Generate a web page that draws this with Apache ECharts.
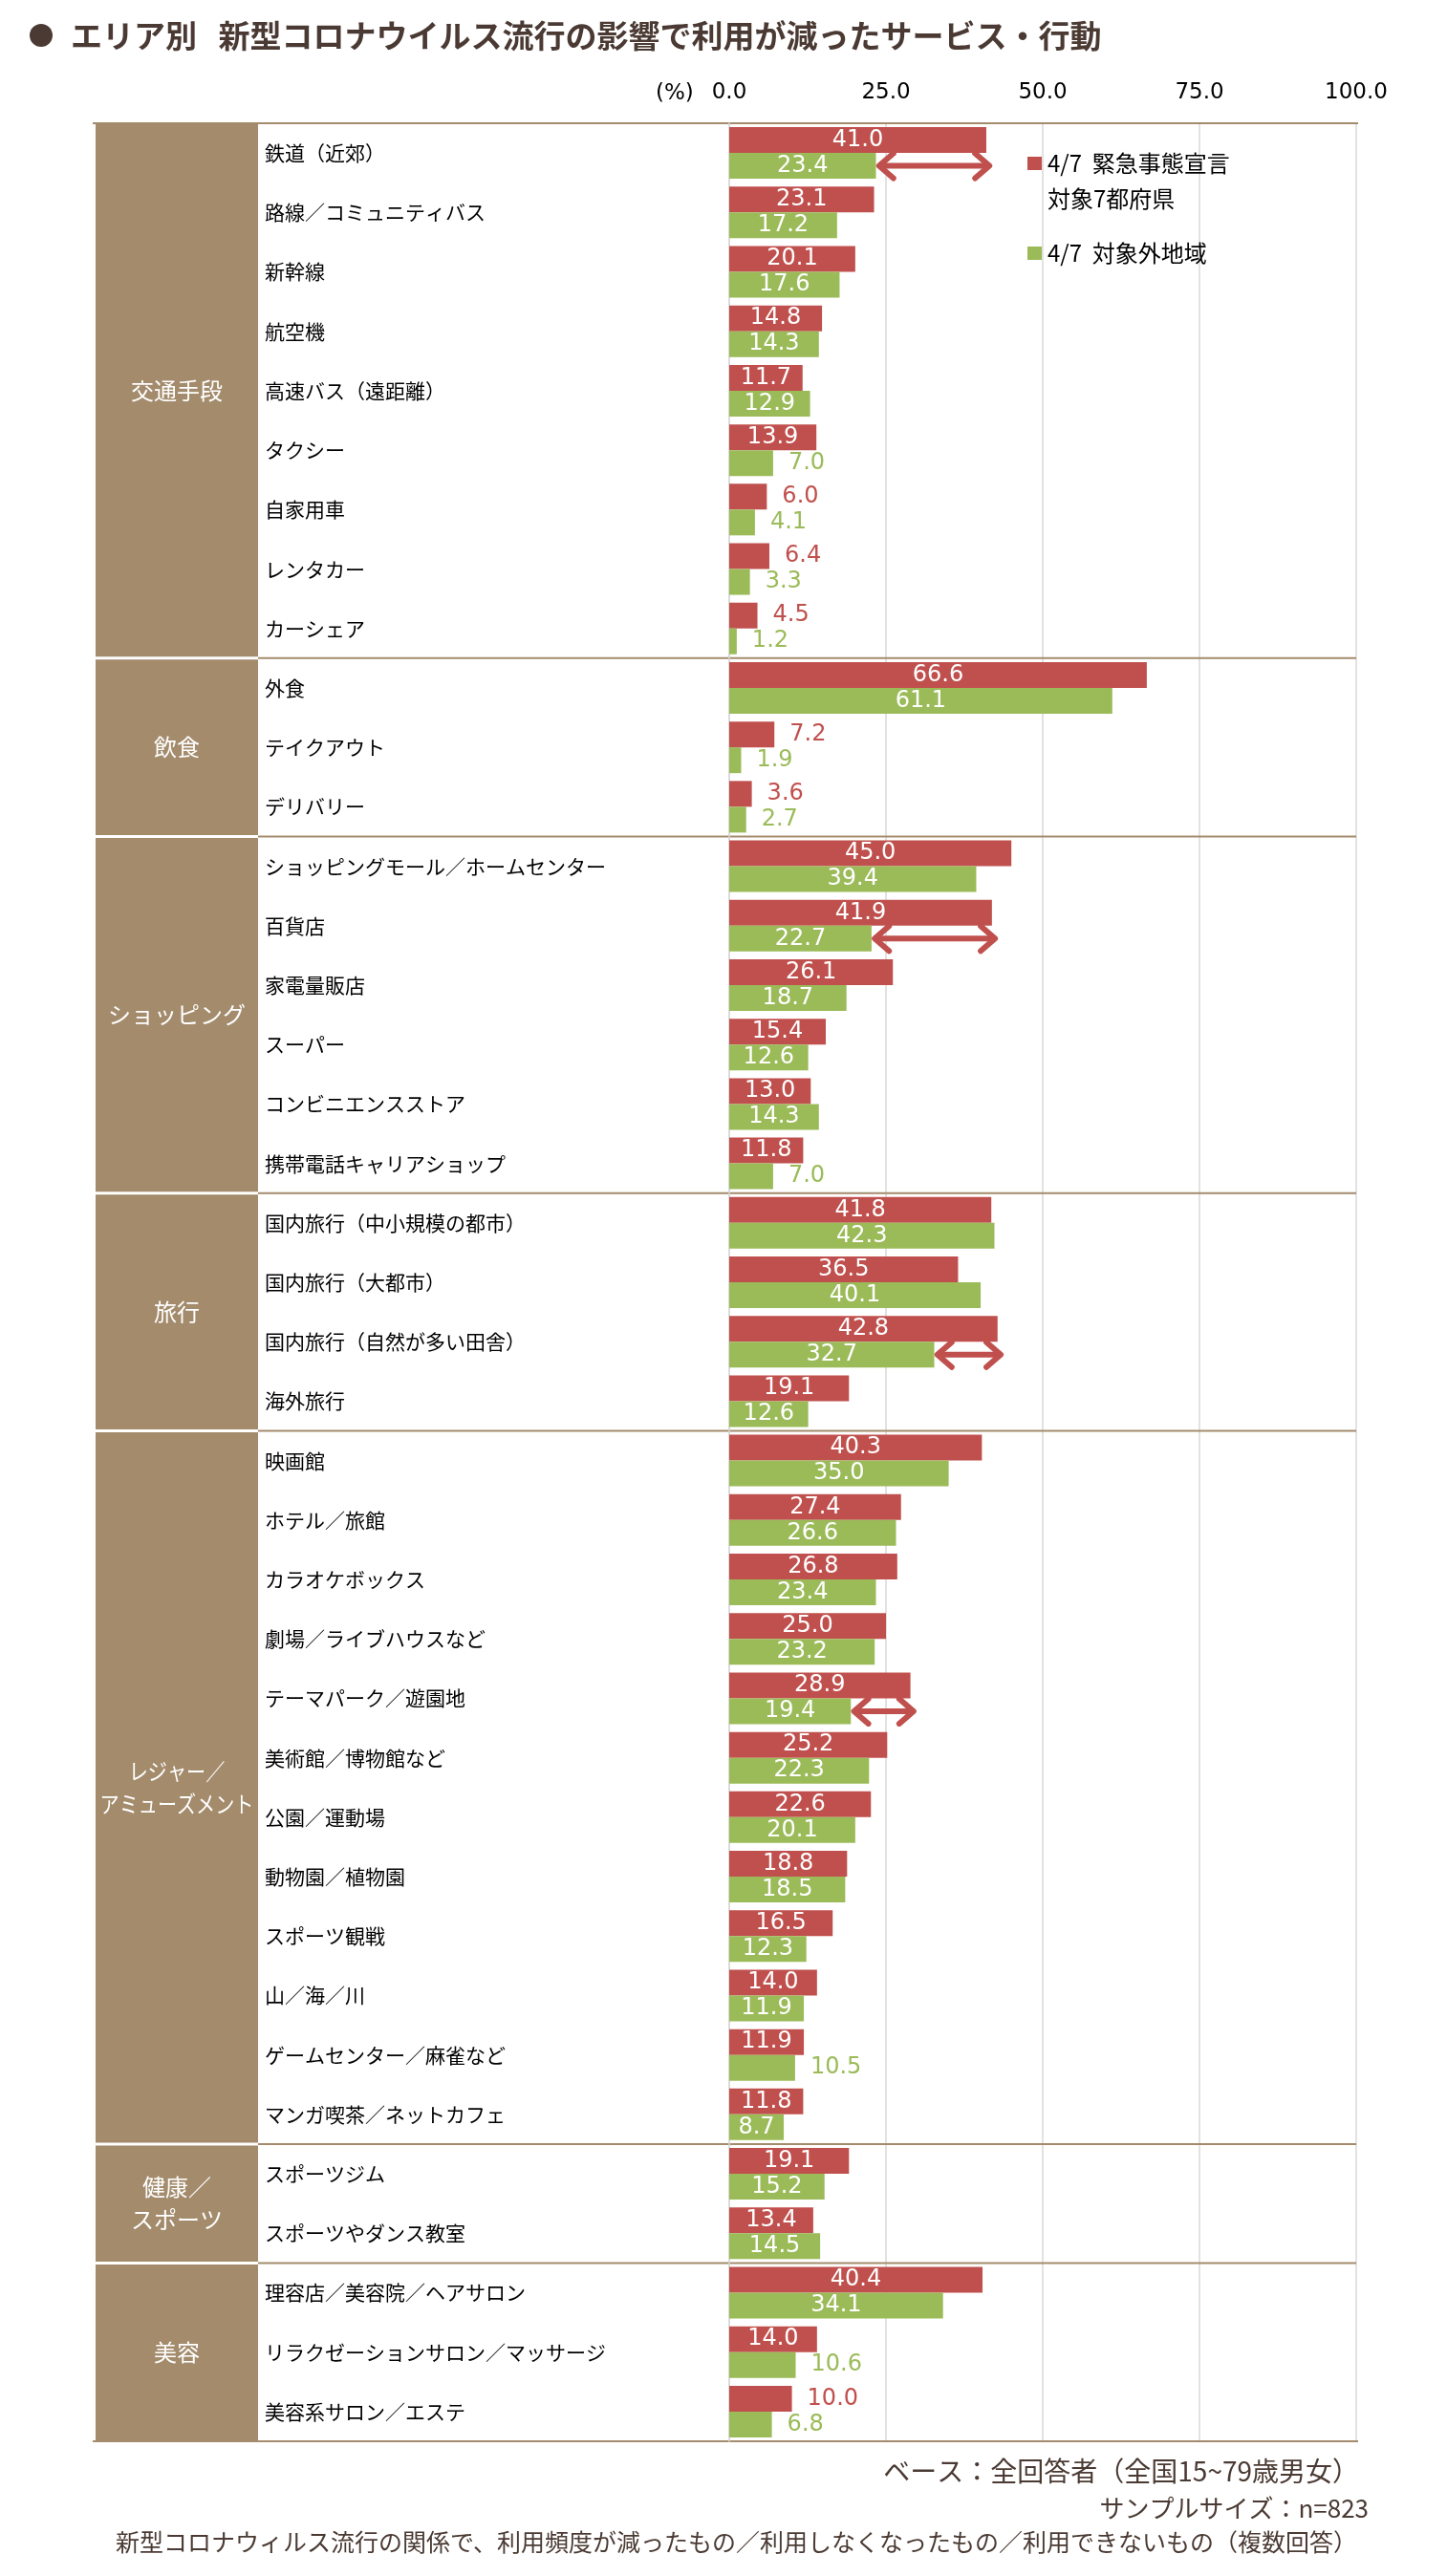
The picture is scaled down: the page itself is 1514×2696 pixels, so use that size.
<!DOCTYPE html>
<html>
<head>
<meta charset="utf-8">
<script src="https://cdn.jsdelivr.net/npm/echarts@6/dist/echarts.min.js"></script>
<style>
html, body { margin: 0; padding: 0; background: #fff; }
#main { width: 1514px; height: 2696px; }
</style>
</head>
<body>
<div id="main"></div>
<script>
// items, top to bottom
var items = [
    '鉄道（近郊）', '路線／コミュニティバス', '新幹線', '航空機', '高速バス（遠距離）',
    'タクシー', '自家用車', 'レンタカー', 'カーシェア',
    '外食', 'テイクアウト', 'デリバリー',
    'ショッピングモール／ホームセンター', '百貨店', '家電量販店', 'スーパー',
    'コンビニエンスストア', '携帯電話キャリアショップ',
    '国内旅行（中小規模の都市）', '国内旅行（大都市）', '国内旅行（自然が多い田舎）', '海外旅行',
    '映画館', 'ホテル／旅館', 'カラオケボックス', '劇場／ライブハウスなど', 'テーマパーク／遊園地',
    '美術館／博物館など', '公園／運動場', '動物園／植物園', 'スポーツ観戦', '山／海／川',
    'ゲームセンター／麻雀など', 'マンガ喫茶／ネットカフェ',
    'スポーツジム', 'スポーツやダンス教室',
    '理容店／美容院／ヘアサロン', 'リラクゼーションサロン／マッサージ', '美容系サロン／エステ'
];
// 4/7 緊急事態宣言 対象7都府県
var emergency = [
    41.0, 23.1, 20.1, 14.8, 11.7, 13.9, 6.0, 6.4, 4.5,
    66.6, 7.2, 3.6,
    45.0, 41.9, 26.1, 15.4, 13.0, 11.8,
    41.8, 36.5, 42.8, 19.1,
    40.3, 27.4, 26.8, 25.0, 28.9, 25.2, 22.6, 18.8, 16.5, 14.0, 11.9, 11.8,
    19.1, 13.4,
    40.4, 14.0, 10.0
];
// 4/7 対象外地域
var others = [
    23.4, 17.2, 17.6, 14.3, 12.9, 7.0, 4.1, 3.3, 1.2,
    61.1, 1.9, 2.7,
    39.4, 22.7, 18.7, 12.6, 14.3, 7.0,
    42.3, 40.1, 32.7, 12.6,
    35.0, 26.6, 23.4, 23.2, 19.4, 22.3, 20.1, 18.5, 12.3, 11.9, 10.5, 8.7,
    15.2, 14.5,
    34.1, 10.6, 6.8
];
var groups = ['交通手段', '飲食', 'ショッピング', '旅行', 'レジャー／\nアミューズメント', '健康／\nスポーツ', '美容'];
var groupSizes = [9, 3, 6, 4, 12, 2, 3];
var ticks = [0, 25, 50, 75, 100];
var arrowItems = ['鉄道（近郊）', '百貨店', '国内旅行（自然が多い田舎）', 'テーマパーク／遊園地'];

var RED = '#c0504d', GREEN = '#9bbb59', TAN = '#a38b6c', INK = '#4a3a33', GRID = '#d9d9d9';
var CJK = '"Noto Sans CJK JP", sans-serif';
var NUM = '"DejaVu Sans", "Noto Sans CJK JP", sans-serif';

var gridTop = 129, gridBottom = 2555, gridLeft = 763, gridRight = 1419;
var colL = 100, colR = 270, labelX = 277;
var barW = 27;

// small value labels sit to the right of the bar, except where the original kept them inside
var keepInsideGreen = ['マンガ喫茶／ネットカフェ'];

function barData(vals, color, keepInside) {
    return vals.map(function (v, i) {
        var inside = v >= 11 || keepInside.indexOf(items[i]) >= 0;
        return {
            value: v,
            label: inside
                ? { position: 'inside', color: '#fff' }
                : { position: 'right', distance: 16, color: color }
        };
    });
}

var chart = echarts.init(document.getElementById('main'));

var option = {
    animation: false,
    backgroundColor: '#fff',
    grid: {
        top: gridTop,
        bottom: 2696 - gridBottom,
        left: gridLeft,
        right: 1514 - gridRight,
        containLabel: false
    },
    xAxis: {
        type: 'value',
        position: 'top',
        min: ticks[0],
        max: ticks[ticks.length - 1],
        interval: ticks[1] - ticks[0],
        axisLine: { show: false },
        axisTick: { show: false },
        axisLabel: {
            formatter: function (v) { return v.toFixed(1); },
            fontFamily: NUM,
            fontSize: 23,
            color: '#000',
            margin: 20
        },
        splitLine: { lineStyle: { color: GRID, width: 1.5 } }
    },
    yAxis: {
        type: 'category',
        data: items,
        inverse: true,
        axisTick: { show: false },
        axisLine: { show: true, lineStyle: { color: GRID, width: 1.5 } },
        axisLabel: {
            interval: 0,
            margin: gridLeft - labelX,
            align: 'left',
            fontFamily: CJK,
            fontSize: 21,
            color: '#000'
        },
        splitLine: { show: false }
    },
    series: [
        {
            name: '4/7 緊急事態宣言 対象7都府県',
            type: 'bar',
            barWidth: barW,
            barGap: '0%',
            itemStyle: { color: RED },
            label: {
                show: true,
                fontFamily: NUM,
                fontSize: 24,
                formatter: function (p) { return p.value.toFixed(1); }
            },
            data: barData(emergency, RED, [])
        },
        {
            name: '4/7 対象外地域',
            type: 'bar',
            barWidth: barW,
            barGap: '0%',
            itemStyle: { color: GREEN },
            label: {
                show: true,
                fontFamily: NUM,
                fontSize: 24,
                formatter: function (p) { return p.value.toFixed(1); }
            },
            data: barData(others, GREEN, keepInsideGreen)
        },
        {
            // double arrows showing the gap between the two areas
            type: 'custom',
            z: 5,
            encode: { x: [1, 2], y: 0 },
            data: arrowItems.map(function (n) {
                var i = items.indexOf(n);
                return [i, others[i], emergency[i]];
            }),
            renderItem: function (params, api) {
                var a = api.coord([api.value(1) + 0.5, api.value(0)]);
                var b = api.coord([api.value(2) + 0.5, api.value(0)]);
                var y = a[1] + barW / 2;
                var x1 = a[0], x2 = b[0];
                var hw = 15, hh = 13;
                var st = { stroke: RED, lineWidth: 6, fill: null, lineCap: 'round', lineJoin: 'round' };
                return {
                    type: 'group',
                    children: [
                        { type: 'line', shape: { x1: x1 + 3, y1: y, x2: x2 - 3, y2: y }, style: st },
                        { type: 'polyline', shape: { points: [[x1 + hw, y - hh], [x1, y], [x1 + hw, y + hh]] }, style: st },
                        { type: 'polyline', shape: { points: [[x2 - hw, y - hh], [x2, y], [x2 - hw, y + hh]] }, style: st }
                    ]
                };
            }
        }
    ]
};
chart.setOption(option);

// frame, category column, legend, title and notes
var band = (gridBottom - gridTop) / items.length;
var g = [];
var start = 0;
groups.forEach(function (name, k) {
    var n = groupSizes[k];
    var y0 = chart.convertToPixel({ yAxisIndex: 0 }, items[start]) - band / 2;
    var y1 = chart.convertToPixel({ yAxisIndex: 0 }, items[start + n - 1]) + band / 2;
    var top = k === 0 ? y0 : y0 + 1.5;
    var bot = k === groups.length - 1 ? y1 : y1 - 1.5;
    // long names are squeezed a little, like the narrow font of the original
    var longest = Math.max.apply(null, name.split('\n').map(function (s) { return s.length; }));
    var sx = longest > 6 ? 6.7 / longest : 1;
    g.push({ type: 'rect', shape: { x: colL, y: top, width: colR - colL, height: bot - top }, style: { fill: TAN } });
    g.push({
        type: 'text', x: (colL + colR) / 2, y: (y0 + y1) / 2, scaleX: sx,
        style: { text: name, fill: '#fff', font: '24px ' + CJK, align: 'center', verticalAlign: 'middle', lineHeight: 34 }
    });
    if (k > 0) {
        g.push({ type: 'line', shape: { x1: colR, y1: y0, x2: gridRight, y2: y0 }, style: { stroke: TAN, lineWidth: 2 } });
    }
    start += n;
});
g.push({ type: 'line', shape: { x1: colL - 3, y1: gridTop, x2: gridRight + 2, y2: gridTop }, style: { stroke: TAN, lineWidth: 2 } });
g.push({ type: 'line', shape: { x1: colL - 3, y1: gridBottom, x2: gridRight + 2, y2: gridBottom }, style: { stroke: TAN, lineWidth: 2 } });

// title
g.push({ type: 'circle', shape: { cx: 43, cy: 37, r: 12 }, style: { fill: INK } });
g.push({
    type: 'text', x: 74, y: 37,
    style: { text: 'エリア別   新型コロナウイルス流行の影響で利用が減ったサービス・行動', fill: INK,
             font: 'bold 33px ' + CJK, align: 'left', verticalAlign: 'middle' }
});
g.push({
    type: 'text', x: 686, y: 98,
    style: { text: '(%)', fill: '#000', font: '23px ' + NUM, align: 'left', verticalAlign: 'middle' }
});

// legend
g.push({ type: 'rect', shape: { x: 1075, y: 164, width: 15, height: 14 }, style: { fill: RED } });
g.push({ type: 'text', x: 1096, y: 171, style: { text: '4/7  緊急事態宣言', fill: '#000', font: '24px ' + CJK, verticalAlign: 'middle' } });
g.push({ type: 'text', x: 1096, y: 208, style: { text: '対象7都府県', fill: '#000', font: '24px ' + CJK, verticalAlign: 'middle' } });
g.push({ type: 'rect', shape: { x: 1075, y: 258, width: 15, height: 14 }, style: { fill: GREEN } });
g.push({ type: 'text', x: 1096, y: 265, style: { text: '4/7  対象外地域', fill: '#000', font: '24px ' + CJK, verticalAlign: 'middle' } });

// notes
g.push({ type: 'text', x: 1422, y: 2586, style: { text: 'ベース：全回答者（全国15~79歳男女）', fill: INK, font: '28px ' + CJK, align: 'right', verticalAlign: 'middle' } });
g.push({ type: 'text', x: 1432, y: 2625, style: { text: 'サンプルサイズ：n=823', fill: INK, font: '26px ' + CJK, align: 'right', verticalAlign: 'middle' } });
g.push({ type: 'text', x: 1420, y: 2660, style: { text: '新型コロナウィルス流行の関係で、利用頻度が減ったもの／利用しなくなったもの／利用できないもの（複数回答）', fill: INK, font: '25px ' + CJK, align: 'right', verticalAlign: 'middle' } });

chart.setOption({ graphic: { elements: g } });
</script>
</body>
</html>
